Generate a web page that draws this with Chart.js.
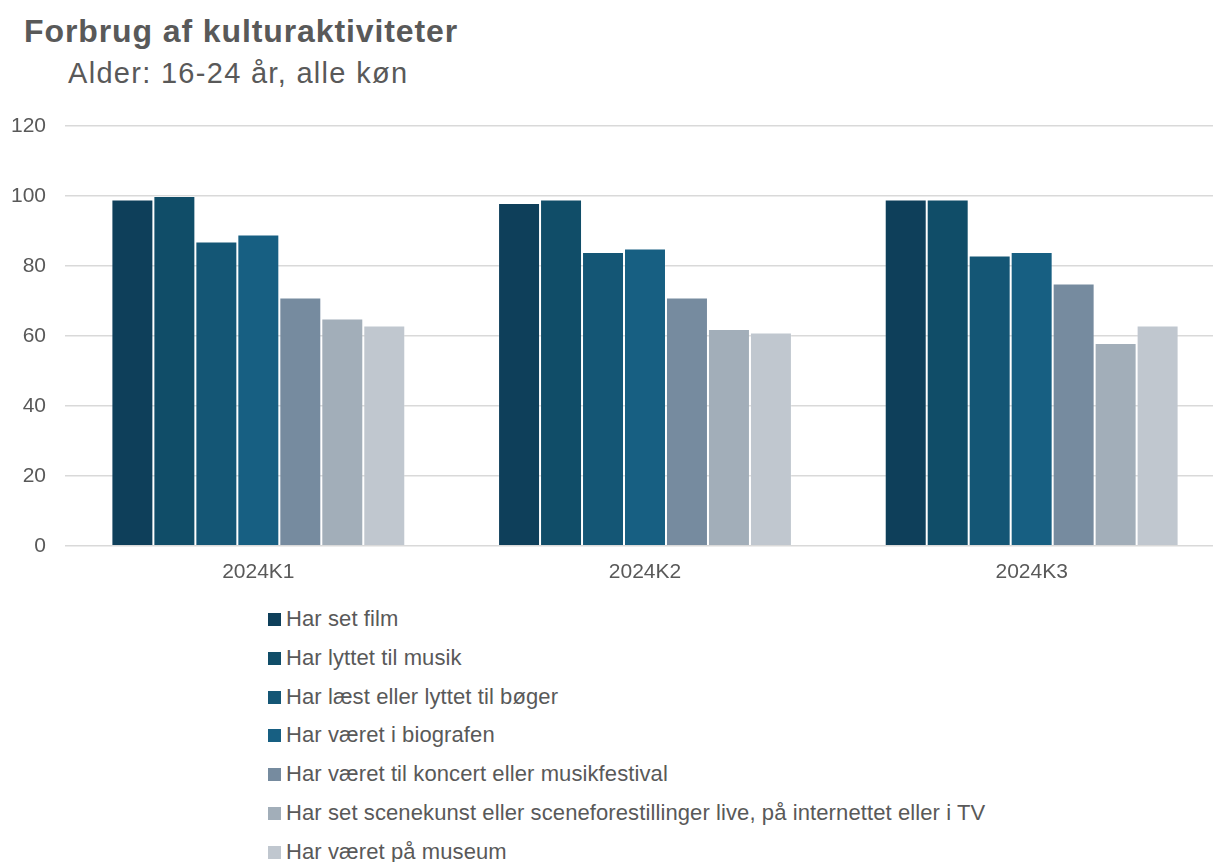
<!DOCTYPE html>
<html>
<head>
<meta charset="utf-8">
<script src="https://cdn.jsdelivr.net/npm/chart.js@4"></script>
<style>
  html, body { margin:0; padding:0; background:#fff; overflow:hidden; width:1213px; height:862px; }
  body { font-family: "Liberation Sans", Arial, sans-serif; color:#595959; position:relative; }
  #title { position:absolute; left:24px; top:15px; font-size:32px; line-height:32px; font-weight:bold; letter-spacing:0.9px; white-space:nowrap; }
  #subtitle { position:absolute; left:68px; top:59px; font-size:29px; line-height:29px; letter-spacing:1.3px; white-space:nowrap; }
  #wrap { position:absolute; left:0; top:0; width:1225px; height:599px; }
  #legend { position:absolute; left:268px; top:600px; margin:0; padding:0; list-style:none; }
  #legend li { position:relative; height:38.8px; font-size:22px; line-height:38.8px; letter-spacing:0.1px; white-space:nowrap; }
  #legend li span.box { position:absolute; left:0; top:13px; width:13px; height:13px; }
  #legend li span.txt { position:absolute; left:18px; top:0; }
</style>
</head>
<body>
<div id="title">Forbrug af kulturaktiviteter</div>
<div id="subtitle">Alder: 16-24 år, alle køn</div>
<div id="wrap"><canvas id="c"></canvas></div>
<ul id="legend"></ul>
<script>
const categories = ["2024K1", "2024K2", "2024K3"];
const seriesNames = [
  "Har set film",
  "Har lyttet til musik",
  "Har læst eller lyttet til bøger",
  "Har været i biografen",
  "Har været til koncert eller musikfestival",
  "Har set scenekunst eller sceneforestillinger live, på internettet eller i TV",
  "Har været på museum"
];
const film      = [99, 98, 99];
const musik     = [100, 99, 99];
const boeger    = [87, 84, 83];
const biograf   = [89, 85, 84];
const koncert   = [71, 71, 75];
const scene     = [65, 62, 58];
const museum    = [63, 61, 63];
const yTicks = [0, 20, 40, 60, 80, 100, 120];

const colors = ["#0E3F5A", "#104D68", "#145675", "#175F82", "#768B9F", "#A2AEB9", "#C0C7CF"];
const seriesValues = [film, musik, boeger, biograf, koncert, scene, museum];

const datasets = seriesNames.map((name, i) => ({
  label: name,
  data: seriesValues[i],
  backgroundColor: colors[i],
  borderColor: "rgba(255,255,255,0.2)",
  borderWidth: 1,
  borderSkipped: "bottom",
  categoryPercentage: 0.76,
  barPercentage: 1.0
}));

const htmlLegend = {
  id: "htmlLegend",
  afterUpdate(chart) {
    const ul = document.getElementById("legend");
    ul.innerHTML = "";
    chart.data.datasets.forEach((ds) => {
      const li = document.createElement("li");
      const box = document.createElement("span");
      box.className = "box";
      box.style.background = ds.backgroundColor;
      const txt = document.createElement("span");
      txt.className = "txt";
      txt.textContent = ds.label;
      li.appendChild(box);
      li.appendChild(txt);
      ul.appendChild(li);
    });
  }
};

new Chart(document.getElementById("c"), {
  type: "bar",
  data: { labels: categories, datasets },
  plugins: [htmlLegend],
  options: {
    responsive: true,
    maintainAspectRatio: false,
    animation: false,
    layout: { padding: { top: 126, left: 0, right: 0, bottom: 0 } },
    plugins: {
      legend: { display: false },
      title: { display: false },
      tooltip: { enabled: false }
    },
    scales: {
      x: {
        grid: { display: false, drawTicks: false },
        border: { display: false },
        ticks: {
          color: "#595959",
          font: { family: "'Liberation Sans', Arial, sans-serif", size: 21 },
          padding: 14
        }
      },
      y: {
        min: 0,
        max: 120,
        afterBuildTicks(scale) { scale.ticks = yTicks.map(v => ({ value: v })); },
        afterFit(scale) { scale.width = 65; },
        grid: { color: "#D9D9D9", lineWidth: 1.5, drawTicks: false },
        border: { display: false },
        ticks: {
          color: "#595959",
          font: { family: "'Liberation Sans', Arial, sans-serif", size: 21 },
          padding: 19
        }
      }
    }
  }
});
</script>
</body>
</html>
